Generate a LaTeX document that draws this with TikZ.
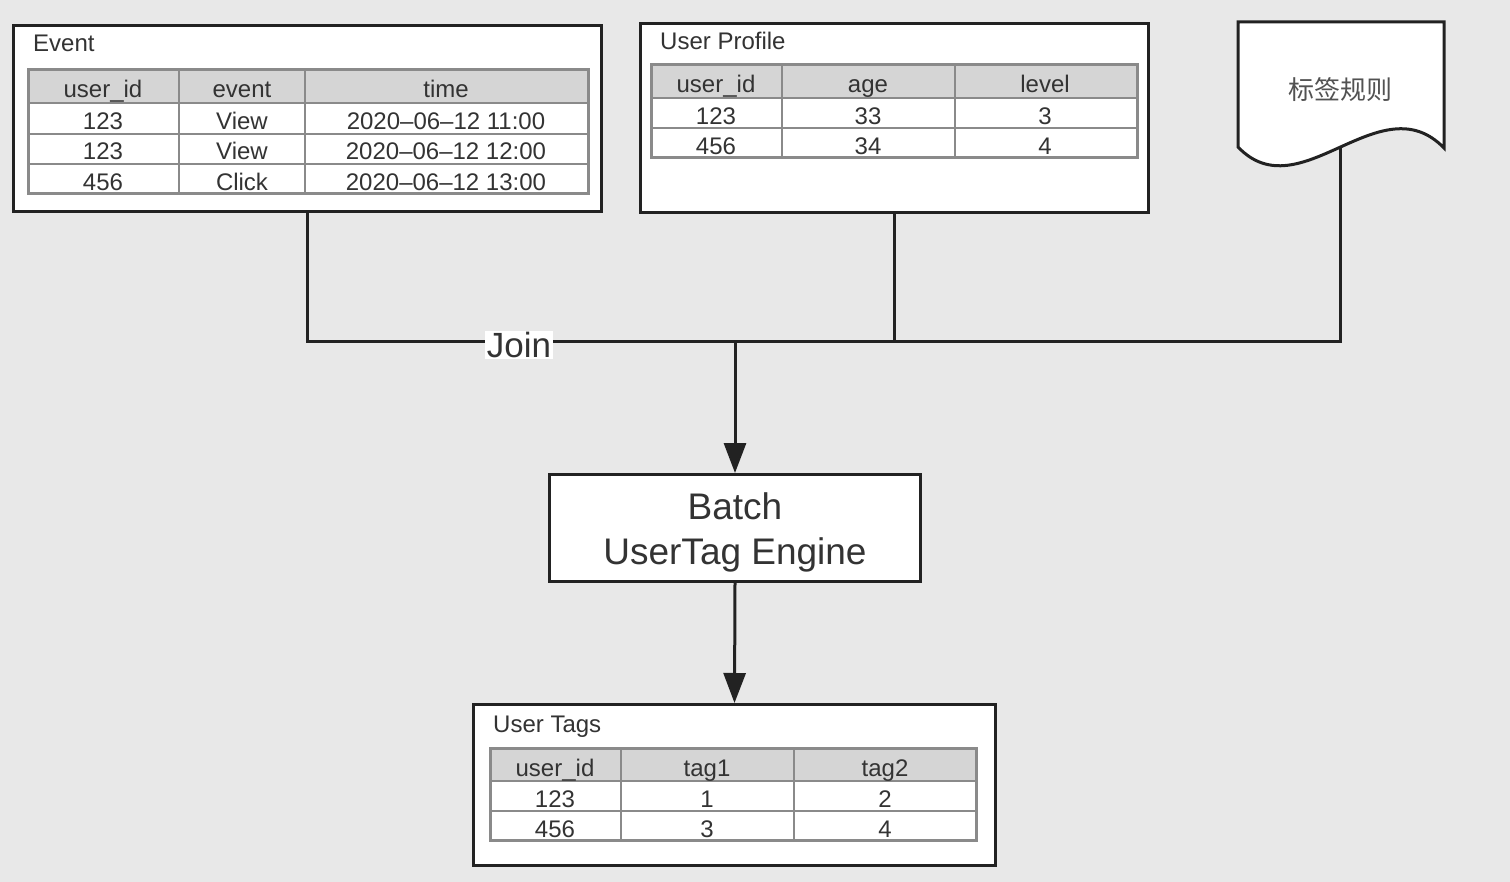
\documentclass[tikz,border=0pt]{standalone}
\usepackage{fontspec}
\setmainfont{Liberation Sans}
\newfontfamily\cjk{Noto Sans CJK SC}
\usetikzlibrary{arrows.meta}
\definecolor{bgc}{HTML}{E8E8E8}
\definecolor{boxc}{HTML}{222222}
\definecolor{hdrfill}{HTML}{D5D5D5}
\definecolor{gridc}{HTML}{8A8A8A}
\definecolor{txt}{HTML}{333333}
\newcommand\mytable[7]{%
  \fill[white] (#1,#2) rectangle (#3,#4);
  \fill[hdrfill] (#1,#2) rectangle (#3,#5);
  \foreach \yy in {#6} \draw[gridline] (#1,\yy) -- (#3,\yy);
  \foreach \xx in {#7} \draw[gridline] (\xx,#2) -- (\xx,#4);
  \draw[tborder] (#1,#2) rectangle (#3,#4);
}
\begin{document}
\begin{tikzpicture}[x=1pt,y=-1pt,
  box/.style={draw=boxc, line width=3pt, fill=white, inner sep=0pt, anchor=north west},
  gridline/.style={draw=gridc, line width=1.6pt},
  tborder/.style={draw=gridc, line width=3pt},
  cell/.style={text=txt, font=\fontsize{24}{28}\selectfont, anchor=base, inner sep=0pt},
  title/.style={text=txt, font=\fontsize{24}{28}\selectfont, anchor=base west, inner sep=0pt},
  conn/.style={draw=boxc, line width=3pt},
  arr/.style={conn, -{Triangle[length=30pt,width=22pt]}}]
\fill[bgc] (0,0) rectangle (1510,882);
\useasboundingbox (0,0) rectangle (1510,882);

% Event box
\node[box, minimum width=588pt, minimum height=186pt] (event) at (12,24) {};
\node[title] (event-title) at (33,52) {Event};
\mytable{28}{70}{588}{194}{103}{103,134,164}{179,305}
\foreach \x/\t [count=\c] in {103/user\_id, 242/event, 446/time}
  \node[cell] (ev-h\c) at (\x,98) {\t};
\foreach \y/\a/\b/\d [count=\r] in {130/123/View/2020–06–12 11:00, 160/123/View/2020–06–12 12:00, 191/456/Click/2020–06–12 13:00}{
  \node[cell] (ev-r\r-1) at (103,\y) {\a};
  \node[cell] (ev-r\r-2) at (242,\y) {\b};
  \node[cell] (ev-r\r-3) at (446,\y) {\d};
}

% User Profile box
\node[box, minimum width=508pt, minimum height=189pt] (profile) at (639,22) {};
\node[title] (profile-title) at (660,50) {User Profile};
\mytable{651}{65}{1137}{158}{98}{98,128}{782,955}
\foreach \x/\t [count=\c] in {716/user\_id, 868/age, 1045/level}
  \node[cell] (pr-h\c) at (\x,93) {\t};
\foreach \y/\a/\b/\d [count=\r] in {125/123/33/3, 155/456/34/4}{
  \node[cell] (pr-r\r-1) at (716,\y) {\a};
  \node[cell] (pr-r\r-2) at (868,\y) {\b};
  \node[cell] (pr-r\r-3) at (1045,\y) {\d};
}

% Document shape
\draw[conn, fill=white, line join=miter] (1238,147) -- (1238,22) -- (1444,22) -- (1444,148)
  .. controls (1380,82) and (1300,212) .. (1238,147) -- cycle;
\coordinate (docb) at (1340,146.4);
\node[text=txt!85!white, font=\cjk\fontsize{26}{30}\selectfont] (rule) at (1340,90) {标签规则};

% Batch engine
\node[box, minimum width=371pt, minimum height=107pt] (batch) at (548,473) {};
\node[text=txt, font=\fontsize{37}{45}\selectfont, align=center] (batch-label) at ([yshift=-4pt]batch.center) {Batch\\UserTag Engine};

% User Tags box
\node[box, minimum width=522pt, minimum height=161pt] (tags) at (472,703) {};
\node[title] (tags-title) at (493,732) {User Tags};
\mytable{490}{748}{976}{840}{781}{781,811}{621,794}
\foreach \x/\t [count=\c] in {555/user\_id, 707/tag1, 885/tag2}
  \node[cell] (tg-h\c) at (\x,776) {\t};
\foreach \y/\a/\b/\d [count=\r] in {807/123/1/2, 837/456/3/4}{
  \node[cell] (tg-r\r-1) at (555,\y) {\a};
  \node[cell] (tg-r\r-2) at (707,\y) {\b};
  \node[cell] (tg-r\r-3) at (885,\y) {\d};
}

% Connectors
\coordinate (j) at (batch.north |- 0,342);
\coordinate (jr) at (docb |- 0,342);
\draw[conn] (event.south) |- (jr) -- (docb);
\draw[conn] (profile.south) -- (profile.south |- j);
\draw[arr] (j) -- (batch.north);
\draw[arr] (batch.south) -- (tags.north);
\node[fill=white, text=txt, font=\fontsize{35}{40}\selectfont, inner sep=1.5pt] (join) at (519,345) {Join};
\end{tikzpicture}
\end{document}
